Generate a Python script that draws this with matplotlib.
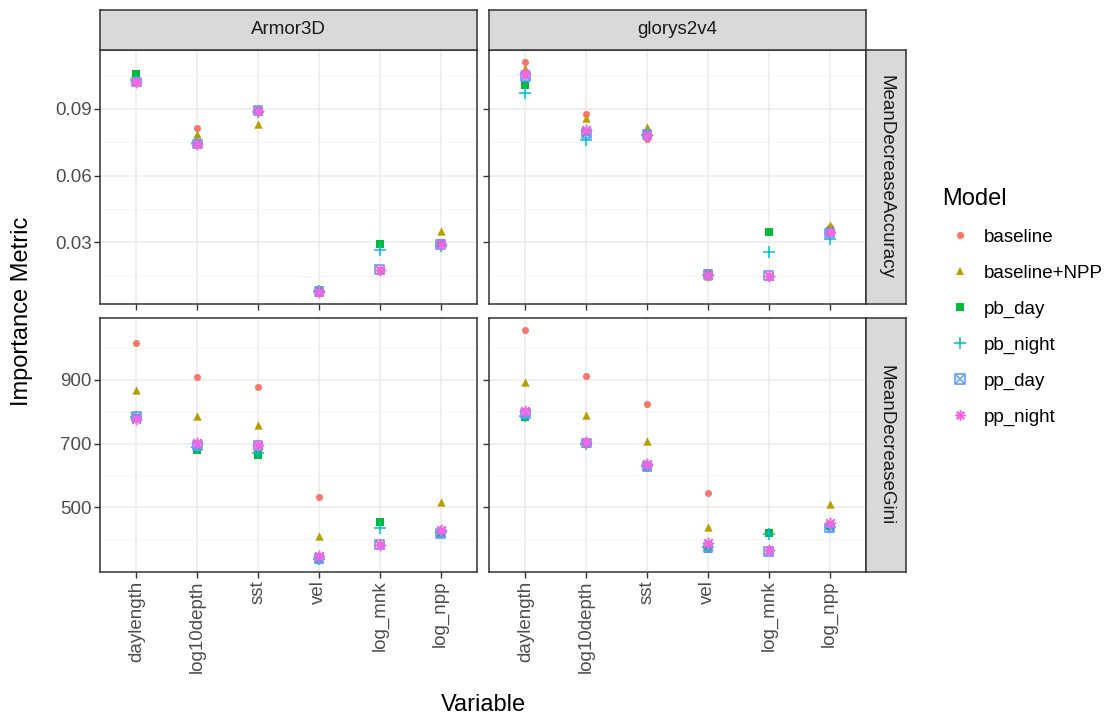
import matplotlib
matplotlib.use("Agg")
import matplotlib.pyplot as plt
from matplotlib.lines import Line2D
from matplotlib.ticker import FixedLocator

plt.rcParams['font.family'] = ['Liberation Sans', 'DejaVu Sans']

# data
variables = ["daylength", "log10depth", "sst", "vel", "log_mnk", "log_npp"]
models = ["baseline", "baseline+NPP", "pb_day", "pb_night", "pp_day", "pp_night"]
sources = ["Armor3D", "glorys2v4"]
metrics = ["MeanDecreaseAccuracy", "MeanDecreaseGini"]

# rows follow `models`, columns follow `variables`
armor_acc = [
    [0.1020, 0.0815, 0.0885, 0.0078, 0.0178, 0.0298],
    [0.1028, 0.0785, 0.0832, 0.0075, 0.0178, 0.0353],
    [0.1055, 0.0748, 0.0888, 0.0085, 0.0292, 0.0295],
    [0.1030, 0.0745, 0.0885, 0.0080, 0.0265, 0.0282],
    [0.1020, 0.0742, 0.0893, 0.0080, 0.0178, 0.0292],
    [0.1018, 0.0740, 0.0888, 0.0076, 0.0176, 0.0293],
]
glorys_acc = [
    [0.1112, 0.0878, 0.0765, 0.0152, 0.0150, 0.0370],
    [0.1085, 0.0858, 0.0818, 0.0150, 0.0152, 0.0378],
    [0.1008, 0.0795, 0.0790, 0.0162, 0.0347, 0.0352],
    [0.0972, 0.0760, 0.0780, 0.0155, 0.0255, 0.0315],
    [0.1045, 0.0790, 0.0785, 0.0155, 0.0150, 0.0342],
    [0.1055, 0.0805, 0.0782, 0.0152, 0.0149, 0.0345],
]
armor_gini = [
    [1016, 909, 878, 531, 385, 425],
    [869, 785, 759, 411, 385, 515],
    [780, 681, 663, 333, 455, 420],
    [782, 690, 670, 338, 435, 422],
    [785, 695, 693, 338, 383, 417],
    [777, 702, 694, 346, 383, 430],
]
glorys_gini = [
    [1058, 912, 824, 546, 365, 445],
    [894, 791, 708, 438, 365, 511],
    [782, 700, 625, 370, 419, 440],
    [785, 698, 628, 375, 415, 438],
    [795, 702, 627, 373, 361, 435],
    [803, 705, 635, 388, 367, 450],
]

acc_ticks = [0.03, 0.06, 0.09]
acc_ticklabels = ["0.03", "0.06", "0.09"]
gini_ticks = [500, 700, 900]
gini_ticklabels = ["500", "700", "900"]

colors = ["#F8766D", "#B79F00", "#00BA38", "#00BFC4", "#619CFF", "#F564E3"]

W, H = 1118, 720
fig = plt.figure(figsize=(W / 100, H / 100), dpi=100)


def px_axes(x0, y0, x1, y1):
    # pixel box (top-left origin) -> figure axes
    return fig.add_axes([x0 / W, 1 - y1 / H, (x1 - x0) / W, (y1 - y0) / H])


def draw_points(ax, x, y, i):
    c = colors[i]
    if i == 0:
        return ax.scatter(x, y, s=26, marker="o", color=c, linewidths=0, zorder=3)
    if i == 1:
        return ax.scatter(x, y, s=36, marker="^", color=c, linewidths=0, zorder=3)
    if i == 2:
        return ax.scatter(x, y, s=30, marker="s", color=c, linewidths=0, zorder=3)
    if i == 3:
        return ax.scatter(x, y, s=70, marker="+", color=c, linewidths=1.1, zorder=3)
    if i == 4:
        ax.scatter(x, y, s=40, marker="s", facecolors="none", edgecolors=c,
                   linewidths=1.2, zorder=3)
        return ax.scatter(x, y, s=30, marker="x", color=c, linewidths=1.1, zorder=3)
    return ax.scatter(x, y, s=55, marker=(8, 2, 0), color=c, linewidths=1.1, zorder=3)


cols = [(100, 477), (489, 866)]
rows = [(50, 304), (318, 572)]
panel_data = [[armor_acc, glorys_acc], [armor_gini, glorys_gini]]
tick_sets = [(acc_ticks, acc_ticklabels), (gini_ticks, gini_ticklabels)]
border = "#333333"

xpos = list(range(1, len(variables) + 1))

for r, (ry0, ry1) in enumerate(rows):
    # shared y range per row, ggplot-style 5% expansion
    vals = [v for panel in panel_data[r] for row in panel for v in row]
    lo, hi = min(vals), max(vals)
    pad = (hi - lo) * 0.05
    ticks, ticklabels = tick_sets[r]
    minor = [(a + b) / 2 for a, b in zip([2 * ticks[0] - ticks[1]] + ticks, ticks + [2 * ticks[-1] - ticks[-2]])]
    for c, (cx0, cx1) in enumerate(cols):
        ax = px_axes(cx0, ry0, cx1, ry1)
        ax.set_facecolor("white")
        ax.set_xlim(0.4, len(variables) + 0.6)
        ax.set_ylim(lo - pad, hi + pad)
        ax.set_xticks(xpos)
        ax.set_yticks(ticks)
        ax.yaxis.set_minor_locator(FixedLocator(minor))
        ax.xaxis.set_minor_locator(FixedLocator([]))
        ax.grid(True, which="major", color="#EBEBEB", linewidth=1.1, zorder=0)
        ax.grid(True, which="minor", axis="y", color="#F2F2F2", linewidth=0.6, zorder=0)
        ax.set_axisbelow(True)
        for sp in ax.spines.values():
            sp.set_color(border)
            sp.set_linewidth(1.1)
        ax.tick_params(axis="both", which="major", length=4, width=1.0, color=border,
                       labelsize=13.5, labelcolor="#4D4D4D", pad=2)
        ax.tick_params(axis="y", which="minor", length=0)
        if c == 0:
            ax.set_yticklabels(ticklabels)
        else:
            ax.set_yticklabels([])
        if r == 1:
            ax.set_xticklabels(variables, rotation=90)
        else:
            ax.set_xticklabels([])
        data = panel_data[r][c]
        for i in range(len(models)):
            draw_points(ax, xpos, data[i], i)

        if r == 0:
            sx = px_axes(cx0, 10, cx1, 50)
            sx.set_facecolor("#D9D9D9")
            sx.set_xticks([])
            sx.set_yticks([])
            for sp in sx.spines.values():
                sp.set_color(border)
                sp.set_linewidth(1.1)
            sx.text(0.5, 0.5, sources[c], ha="center", va="center", fontsize=13.5,
                    color="#1A1A1A", transform=sx.transAxes)
    sy = px_axes(866, ry0, 906, ry1)
    sy.set_facecolor("#D9D9D9")
    sy.set_xticks([])
    sy.set_yticks([])
    for sp in sy.spines.values():
        sp.set_color(border)
        sp.set_linewidth(1.1)
    sy.text(0.5, 0.5, metrics[r], ha="center", va="center", fontsize=13.5,
            color="#1A1A1A", rotation=270, transform=sy.transAxes)

fig.text(22 / W, 1 - 311 / H, "Importance Metric", rotation=90, ha="center",
         va="center", fontsize=17)
fig.text(483 / W, 1 - 705 / H, "Variable", ha="center", va="center", fontsize=17)

# legend handles
marker_specs = [
    dict(marker="o", markersize=5.2, markeredgewidth=0),
    dict(marker="^", markersize=6, markeredgewidth=0),
    dict(marker="s", markersize=5.5, markeredgewidth=0),
    dict(marker="+", markersize=8.5, markeredgewidth=1.1),
    None,
    dict(marker=(8, 2, 0), markersize=7.5, markeredgewidth=1.1),
]
handles = []
for i, spec in enumerate(marker_specs):
    if spec is None:
        h = (Line2D([], [], linestyle="none", marker="s", markersize=6.5,
                    markerfacecolor="none", markeredgecolor=colors[i], markeredgewidth=1.2),
             Line2D([], [], linestyle="none", marker="x", markersize=5.5,
                    color=colors[i], markeredgewidth=1.1))
    else:
        h = Line2D([], [], linestyle="none", color=colors[i], **spec)
    handles.append(h)

leg = fig.legend(handles, models, loc="upper left",
                 bbox_to_anchor=(942 / W, 1 - 188 / H), frameon=False,
                 fontsize=13.5, title="Model", title_fontsize=17,
                 handlelength=1.9, handletextpad=0.35, labelspacing=1.0,
                 borderpad=0, borderaxespad=0, alignment="left")

fig.savefig("out.png", dpi=100)
